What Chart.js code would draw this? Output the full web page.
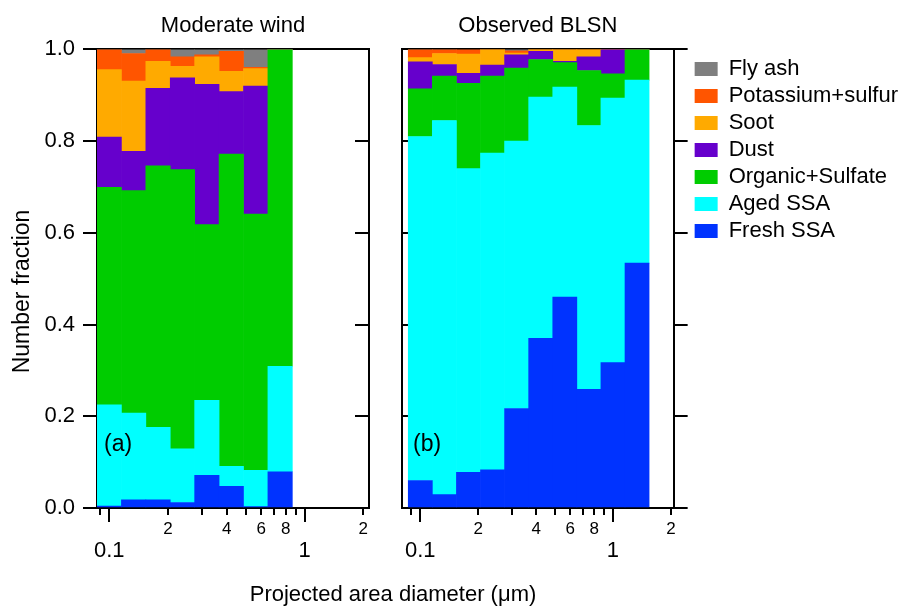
<!DOCTYPE html>
<html>
<head>
<meta charset="utf-8">
<script src="https://cdn.jsdelivr.net/npm/chart.js@4.4.1/dist/chart.umd.min.js"></script>
<style>
  body { margin: 0; background: #fff; width: 917px; height: 607px; position: relative; overflow: hidden;
         font-family: Arial, "Liberation Sans", sans-serif; color: #000; }
  #wrapA { position: absolute; left: 0; top: 0; }
  #wrapB { position: absolute; left: 385px; top: 0; }
  .tag { position: absolute; font-size: 23px; }
  #xTitle { position: absolute; left: 0; width: 786px; top: 581px; text-align: center; font-size: 22px; }
</style>
</head>
<body>
<div id="wrapA"><canvas id="chartA" width="385" height="607"></canvas></div>
<div id="wrapB"><canvas id="chartB" width="532" height="607"></canvas></div>
<div class="tag" style="left:104px; top:430px">(a)</div>
<div class="tag" style="left:413px; top:430px">(b)</div>
<div id="xTitle">Projected area diameter (μm)</div>
<script>
// bin centres (µm), 8 bins per decade
const diametersA = [0.1, 0.13335, 0.17783, 0.23714, 0.31623, 0.42170, 0.56234, 0.74989];
const diametersB = [0.1, 0.13335, 0.17783, 0.23714, 0.31623, 0.42170, 0.56234, 0.74989, 1.0, 1.33352];

// particle classes, bottom of stack first
const categories = ["Fresh SSA", "Aged SSA", "Organic+Sulfate", "Dust", "Soot", "Potassium+sulfur", "Fly ash"];

// ================= MODERATE WIND =================
const freshA = [0.004, 0.018, 0.018, 0.012, 0.071, 0.047, 0.003, 0.079];
const agedA  = [0.221, 0.189, 0.158, 0.117, 0.164, 0.044, 0.079, 0.230];
const orgA   = [0.474, 0.485, 0.570, 0.609, 0.383, 0.681, 0.559, 0.691];
const dustA  = [0.110, 0.086, 0.169, 0.200, 0.306, 0.136, 0.279, 0];
const sootA  = [0.147, 0.153, 0.059, 0.025, 0.060, 0.044, 0.038, 0];
const kA     = [0.044, 0.060, 0.026, 0.021, 0.004, 0.044, 0.003, 0];
const flyA   = [0, 0.009, 0, 0.016, 0.012, 0.004, 0.039, 0];

// ================= OBSERVED BLSN =================
const freshB = [0.060, 0.029, 0.078, 0.083, 0.217, 0.370, 0.460, 0.259, 0.317, 0.534];
const agedB  = [0.750, 0.816, 0.662, 0.691, 0.583, 0.526, 0.458, 0.575, 0.577, 0.399];
const orgB   = [0.104, 0.097, 0.186, 0.168, 0.159, 0.082, 0.053, 0.120, 0.053, 0.067];
const dustB  = [0.059, 0.025, 0.022, 0.024, 0.029, 0.018, 0.003, 0.030, 0.053, 0];
const sootB  = [0.009, 0.024, 0.042, 0.034, 0.004, 0.004, 0.026, 0.016, 0, 0];
const kB     = [0.018, 0.009, 0.011, 0, 0.005, 0, 0, 0, 0, 0];
const flyB   = [0, 0, 0, 0, 0.004, 0, 0, 0, 0, 0];

// log axis ticks
const majorTickValues = [0.1, 1];
const majorTickLabels = ["0.1", "1"];
const minorTickValues = [0.09, 0.2, 0.3, 0.4, 0.5, 0.6, 0.7, 0.8, 0.9, 2];
const minorTickLabels = ["", "2", "", "4", "", "6", "", "8", "", "2"];
const yTickLabels = ["0.0", "0.2", "0.4", "0.6", "0.8", "1.0"];

const colors = ["#0033ff", "#00ffff", "#00cc00", "#6600cc", "#ffaa00", "#ff5500", "#7f7f7f"];

Chart.defaults.font.family = "Arial, 'Liberation Sans', sans-serif";
Chart.defaults.color = "#000";

function makeDatasets(diameters, series) {
  return series.map((vals, i) => ({
    label: categories[i],
    data: vals.map((v, j) => ({ x: Math.log10(diameters[j]), y: v })),
    backgroundColor: colors[i],
    borderWidth: 0,
    barPercentage: 1,
    categoryPercentage: 1
  }));
}

// bar charts give every x scale offset:true by default, so switch it off everywhere
function xScales(min, max, diameters) {
  const centres = diameters.map(d => Math.log10(d));
  return {
    x: {
      type: "linear", display: false, min, max, stacked: true, offset: false,
      grid: { offset: false },
      afterBuildTicks: s => { s.ticks = centres.map(v => ({ value: v })); }
    },
    xTop: {
      type: "linear", position: "top", min, max, offset: false,
      ticks: { display: false },
      grid: { display: false, drawTicks: false, offset: false },
      border: { color: "#000", width: 2 },
      afterFit: s => { s.height = 0; }
    },
    xMajor: {
      type: "linear", position: "bottom", weight: 1, min, max, offset: false,
      afterBuildTicks: s => { s.ticks = majorTickValues.map(v => ({ value: Math.log10(v) })); },
      ticks: { display: false },
      grid: { drawOnChartArea: false, tickLength: 14, color: "#000", lineWidth: 2, offset: false },
      border: { color: "#000", width: 2 },
      afterFit: s => { s.height = 0; }
    },
    xMinor: {
      type: "linear", position: "bottom", weight: 2, min, max, offset: false,
      afterBuildTicks: s => { s.ticks = minorTickValues.map(v => ({ value: Math.log10(v) })); },
      ticks: { autoSkip: false, maxRotation: 0, padding: 4, font: { size: 17 },
               callback: (v, i) => minorTickLabels[i] },
      grid: { drawOnChartArea: false, tickLength: 7, color: "#000", lineWidth: 2, offset: false },
      border: { display: false },
      afterFit: s => { s.height = 30; }
    },
    xLabels: {
      type: "linear", position: "bottom", weight: 3, min, max, offset: false,
      afterBuildTicks: s => { s.ticks = majorTickValues.map(v => ({ value: Math.log10(v) })); },
      ticks: { autoSkip: false, maxRotation: 0, padding: 0, font: { size: 22 },
               callback: (v, i) => majorTickLabels[i] },
      grid: { display: false, drawTicks: false, offset: false },
      border: { display: false },
      afterFit: s => { s.height = 40; }
    }
  };
}

function yScale(extra) {
  return Object.assign({
    min: 0, max: 1,
    ticks: { stepSize: 0.2, display: false },
    grid: { drawOnChartArea: false, color: "#000", lineWidth: 2 },
    border: { color: "#000", width: 2 }
  }, extra);
}

// ================= CHART (a) =================
const scalesA = xScales(Math.log10(0.0866), 0.33, diametersA);
scalesA.y = yScale({
  position: "left", stacked: true,
  ticks: { stepSize: 0.2, padding: 8, font: { size: 22 }, callback: (v, i) => yTickLabels[i] },
  grid: { drawOnChartArea: false, tickLength: 14, color: "#000", lineWidth: 2 },
  // trailing spaces push the centred title a little lower, as in the original
  title: { display: true, text: "Number fraction\u00a0\u00a0\u00a0\u00a0", font: { size: 23 }, padding: { top: 9, bottom: 0 } },
  afterFit: s => { s.width = 97; }
});
scalesA.yRight = yScale({
  position: "right",
  grid: { drawOnChartArea: false, tickLength: -14, color: "#000", lineWidth: 2 },
  afterFit: s => { s.width = 2; }
});

new Chart(document.getElementById("chartA"), {
  type: "bar",
  data: { datasets: makeDatasets(diametersA, [freshA, agedA, orgA, dustA, sootA, kA, flyA]) },
  options: {
    responsive: false,
    animation: false,
    layout: { padding: { left: 0, right: 14, top: 0, bottom: 29 } },
    scales: scalesA,
    plugins: {
      legend: { display: false },
      tooltip: { enabled: false },
      title: { display: true, fullSize: false, text: "Moderate wind", font: { size: 22, weight: "normal" },
               padding: { top: 13, bottom: 10 } }
    }
  }
});

// ================= CHART (b) =================
const scalesB = xScales(-1.095, 0.315, diametersB);
scalesB.y = yScale({
  position: "left", stacked: true,
  grid: { drawOnChartArea: false, tickLength: -7, color: "#000", lineWidth: 2 },
  afterFit: s => { s.width = 17; }
});
scalesB.yRight = yScale({
  position: "right",
  grid: { drawOnChartArea: false, tickLength: 14, color: "#000", lineWidth: 2 },
  afterFit: s => { s.width = 16; }
});

new Chart(document.getElementById("chartB"), {
  type: "bar",
  data: { datasets: makeDatasets(diametersB, [freshB, agedB, orgB, dustB, sootB, kB, flyB]) },
  options: {
    responsive: false,
    animation: false,
    layout: { padding: { left: 0, right: 9, top: 0, bottom: 29 } },
    scales: scalesB,
    plugins: {
      tooltip: { enabled: false },
      title: { display: true, fullSize: false, text: "Observed BLSN", font: { size: 22, weight: "normal" },
               padding: { top: 13, bottom: 10 } },
      legend: {
        position: "right", align: "start", fullSize: false, reverse: true, maxWidth: 240,
        title: { display: true, text: " ", font: { size: 3 }, padding: 0 },
        labels: { boxWidth: 23, boxHeight: 14, padding: 5, font: { size: 22 }, color: "#000" }
      }
    }
  }
});
</script>
</body>
</html>
